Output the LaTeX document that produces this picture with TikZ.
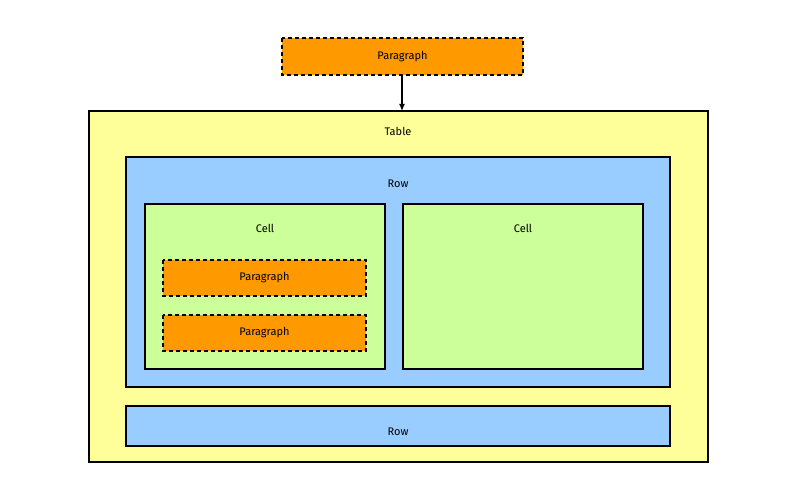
\documentclass[tikz,border=0pt]{standalone}
\usepackage{fontspec}
\usetikzlibrary{arrows.meta}
\setmainfont{Fira Sans}
\definecolor{orng}{HTML}{FF9900}
\definecolor{yel}{HTML}{FFFF99}
\definecolor{blu}{HTML}{99CCFF}
\definecolor{grn}{HTML}{CCFF99}
\begin{document}
\begin{tikzpicture}[x=1pt,y=-1pt,
  box/.style={draw=black,line width=1.5pt},
  para/.style={box,fill=orng,dashed,dash pattern=on 4pt off 3pt},
  lbl/.style={font=\fontsize{11}{13}\selectfont}]
\useasboundingbox (0,0) rectangle (800,500);
\fill[white] (0,0) rectangle (800,500);
\draw[para] (282,38) rectangle (523,75);
\node[lbl] (p0) at (402.5,56.5) {Paragraph};
\draw[box,fill=yel] (89,111) rectangle (708,462);
\coordinate (tt) at (402,111);
\node[lbl] (t) at (398,131) {Table};
\draw[box,fill=blu] (126,157) rectangle (670,387);
\node[lbl] (r1) at (398,184) {Row};
\draw[box,fill=grn] (145,204) rectangle (385,369);
\node[lbl] (c1) at (265,228) {Cell};
\draw[box,fill=grn] (403,204) rectangle (643,369);
\node[lbl] (c2) at (523,228) {Cell};
\draw[para] (163,260) rectangle (366,296);
\node[lbl] (p1) at (264.5,278) {Paragraph};
\draw[para] (163,315) rectangle (366,351);
\node[lbl] (p2) at (264.5,333) {Paragraph};
\draw[box,fill=blu] (126,406) rectangle (670,446);
\node[lbl] (r2) at (398,432) {Row};
\coordinate (pb) at (402,75);
\draw[line width=1.2pt,-{Latex[length=7pt,width=6pt]}] (pb) -- (tt);
\end{tikzpicture}
\end{document}
